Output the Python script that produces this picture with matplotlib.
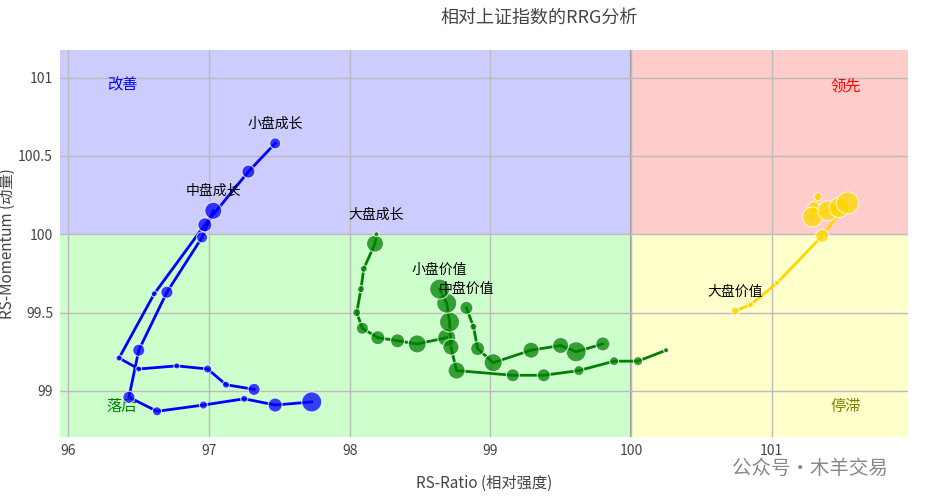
import matplotlib
matplotlib.use("Agg")
import matplotlib.pyplot as plt

plt.rcParams['font.family'] = ['Noto Sans CJK SC', 'DejaVu Sans']

names = ['小盘成长', '中盘成长', '大盘成长', '小盘价值', '中盘价值', '大盘价值']
colors = ['#0000ff', '#0000ff', '#008000', '#008000', '#008000', '#ffd700']
xs = [
    [97.32, 97.12, 96.99, 96.77, 96.50, 96.36, 96.61, 96.97, 97.28, 97.47],
    [97.73, 97.47, 97.25, 96.96, 96.63, 96.43, 96.50, 96.70, 96.95, 97.03],
    [98.69, 98.48, 98.34, 98.20, 98.09, 98.05, 98.08, 98.10, 98.18, 98.19],
    [100.25, 100.05, 99.88, 99.63, 99.38, 99.16, 98.76, 98.72, 98.71, 98.69, 98.64],
    [99.80, 99.61, 99.50, 99.29, 99.02, 98.91, 98.88, 98.83],
    [101.33, 101.30, 101.29, 101.40, 101.48, 101.54, 101.36, 101.04, 100.85, 100.74],
]
ys = [
    [99.01, 99.04, 99.14, 99.16, 99.14, 99.21, 99.62, 100.06, 100.40, 100.58],
    [98.93, 98.91, 98.95, 98.91, 98.87, 98.96, 99.26, 99.63, 99.98, 100.15],
    [99.34, 99.30, 99.32, 99.34, 99.40, 99.50, 99.65, 99.78, 99.94, 100.00],
    [99.26, 99.19, 99.19, 99.13, 99.10, 99.10, 99.13, 99.28, 99.44, 99.56, 99.65],
    [99.30, 99.25, 99.29, 99.26, 99.18, 99.27, 99.41, 99.53],
    [100.24, 100.17, 100.11, 100.15, 100.17, 100.20, 99.99, 99.69, 99.55, 99.51],
]
diam = [
    [12, 7, 8, 6, 6, 6, 6, 14, 13, 11],
    [20, 14, 7, 8, 9, 12, 12, 12, 11, 17],
    [18, 18, 14, 14, 12, 8, 7, 7, 17, 5],
    [5, 9, 9, 10, 13, 13, 17, 16, 20, 20, 20],
    [14, 20, 16, 16, 18, 14, 7, 13],
    [8, 12, 20, 20, 20, 22, 13, 5, 6, 8],
]

fig = plt.figure(figsize=(9.29, 5.0), dpi=100)
ax = fig.add_axes([60/929, 1-437/500, 848/929, 387/500])
x0, x1, y0, y1 = 95.94, 101.97, 98.706, 101.176
ax.set_xlim(x0, x1); ax.set_ylim(y0, y1)
ax.axvspan(x0, 100, ymin=(100-y0)/(y1-y0), ymax=1, color='#ccccff', zorder=0, lw=0)
ax.axvspan(100, x1, ymin=(100-y0)/(y1-y0), ymax=1, color='#ffcccc', zorder=0, lw=0)
ax.axvspan(x0, 100, ymin=0, ymax=(100-y0)/(y1-y0), color='#ccffcc', zorder=0, lw=0)
ax.axvspan(100, x1, ymin=0, ymax=(100-y0)/(y1-y0), color='#ffffcc', zorder=0, lw=0)
ax.set_xticks([96, 97, 98, 99, 100, 101])
ax.set_xticklabels(['96', '97', '98', '99', '100', '101'])
ax.set_yticks([99, 99.5, 100, 100.5, 101])
ax.set_yticklabels(['99', '99.5', '100', '100.5', '101'])
ax.grid(True, color='#bbbbbb', lw=1, zorder=1)
ax.axvline(100, color='#999999', lw=1.5, zorder=1.5)
for s in ax.spines.values():
    s.set_visible(False)
ax.tick_params(length=0, labelsize=10, colors='#444444', pad=5)

for n, c, x, y, d in zip(names, colors, xs, ys, diam):
    ax.plot(x, y, color=c, lw=2, zorder=3)
    ax.scatter(x, y, s=[(v*0.72)**2 for v in d], color=c, alpha=0.75,
               edgecolors='white', linewidths=0.8, zorder=4)
    ax.annotate(n, (x[-1], y[-1]), xytext=(0, 9), textcoords='offset points',
                ha='center', va='bottom', fontsize=10, color='black', zorder=5)

qx_l, qx_r = 96.38, 101.53
ax.text(qx_l, 100.95, '改善', color='blue', fontsize=11, ha='center', va='center')
ax.text(qx_r, 100.95, '领先', color='red', fontsize=11, ha='center', va='center')
ax.text(qx_l, 98.90, '落后', color='green', fontsize=11, ha='center', va='center')
ax.text(qx_r, 98.90, '停滞', color='#808000', fontsize=11, ha='center', va='center')

ax.set_xlabel('RS-Ratio (相对强度)', fontsize=11, color='#444444', labelpad=12)
ax.set_ylabel('RS-Momentum (动量)', fontsize=11, color='#444444', labelpad=2)
fig.text(539/929, 1-18/500, '相对上证指数的RRG分析', ha='center', va='center', fontsize=13, color='#444444')
fig.text(810/929, 1-468/500, '公众号·木羊交易', ha='center', va='center', fontsize=14, color='#888888')

fig.savefig('out.png', dpi=100)
